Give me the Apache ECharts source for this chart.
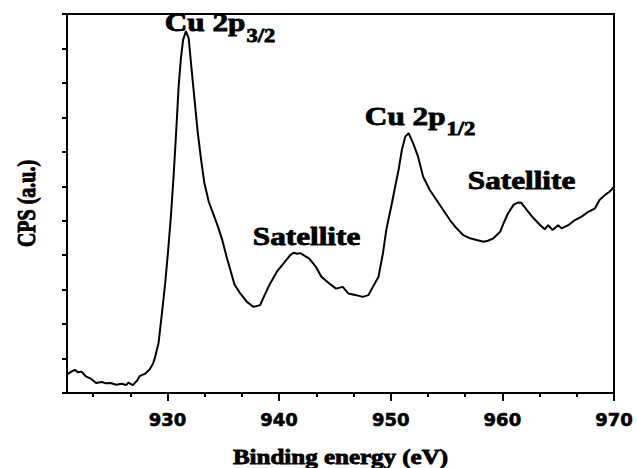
<!DOCTYPE html>
<html>
<head>
<meta charset="utf-8">
<script src="https://cdn.jsdelivr.net/npm/echarts@6/dist/echarts.min.js"></script>
<style>
  html, body { margin: 0; padding: 0; background: #fff; }
  #chart { width: 637px; height: 468px; }
</style>
</head>
<body>
<div id="chart"></div>
<script>
// Cu 2p core-level XPS spectrum
const energy = [
  921.0, 921.4, 921.7, 922.0, 922.3, 922.7, 923.2, 923.6, 924.1, 924.5,
  924.9, 925.4, 925.9, 926.3, 926.5, 926.9, 927.3, 927.5, 928.0, 928.4,
  928.7, 928.9, 929.2, 929.5, 929.8, 930.05, 930.3, 930.55, 930.8, 931.0,
  931.2, 931.4, 931.65, 931.9, 932.1, 932.4, 932.7, 933.0, 933.3, 933.7,
  934.1, 934.5, 934.9, 935.3, 935.7, 936.0, 936.5, 937.1, 937.7, 938.3,
  938.7, 939.2, 939.8, 940.4, 941.0, 941.3, 941.6, 941.9, 942.3, 942.7,
  943.3, 943.8, 944.5, 945.1, 945.7, 946.2, 946.9, 947.5, 948.0, 948.4,
  948.9, 949.3, 949.6, 950.1, 950.4, 950.7, 951.0, 951.3, 951.6, 952.0,
  952.45, 952.9, 953.5, 954.1, 954.7, 955.3, 955.9, 956.5, 957.1, 957.7,
  958.3, 958.7, 959.2, 959.8, 960.1, 960.5, 961.0, 961.4, 961.7, 962.2,
  962.8, 963.4, 963.8, 964.1, 964.5, 965.0, 965.3, 965.9, 966.5, 967.1,
  967.7, 968.3, 968.7, 969.2, 969.6, 970.0
];
const cps = [
  0.54, 0.62, 0.67, 0.60, 0.62, 0.48, 0.40, 0.29, 0.32, 0.28,
  0.29, 0.24, 0.27, 0.23, 0.30, 0.23, 0.37, 0.49, 0.56, 0.68,
  0.85, 1.05, 1.45, 2.30, 3.20, 4.10, 5.10, 6.30, 7.70, 8.90,
  9.70, 10.25, 10.50, 10.30, 9.60, 8.60, 7.60, 6.80, 6.10, 5.55,
  5.20, 4.85, 4.45, 3.95, 3.50, 3.15, 2.90, 2.65, 2.50, 2.55,
  2.84, 3.18, 3.52, 3.76, 4.00, 4.07, 4.04, 4.06, 3.98, 3.90,
  3.66, 3.37, 3.18, 3.03, 3.08, 2.89, 2.84, 2.79, 2.84, 3.08,
  3.37, 4.05, 4.73, 5.50, 6.00, 6.47, 7.06, 7.44, 7.54, 7.25,
  6.86, 6.28, 5.89, 5.60, 5.31, 5.02, 4.78, 4.58, 4.49, 4.44,
  4.39, 4.42, 4.49, 4.68, 4.92, 5.21, 5.46, 5.53, 5.52, 5.31,
  5.07, 4.87, 4.75, 4.87, 4.73, 4.87, 4.78, 4.87, 5.02, 5.12,
  5.26, 5.36, 5.60, 5.75, 5.84, 5.99
];

// axis ticks (binding energy, eV)
const xMajorTicks = [930, 940, 950, 960, 970];
const xMinorTicks = [923.33, 926.67, 933.33, 936.67, 943.33, 946.67,
                     953.33, 956.67, 963.33, 966.67];

// peak annotations: name, subscript and where the baseline of the name starts (eV, counts)
const peakNames = ['Cu 2p', 'Satellite', 'Cu 2p', 'Satellite'];
const peakSubs = ['3/2', '', '1/2', ''];
const peakLabelX = [929.75, 937.64, 947.68, 956.9];
const peakLabelY = [10.49, 4.29, 7.78, 5.91];

const xTitle = 'Binding energy (eV)';
const yTitle = 'CPS (a.u.)';

const SERIF = '"Liberation Serif", "Times New Roman", serif';
const STRETCH = 1.25;

const chart = echarts.init(document.getElementById('chart'), null, { renderer: 'svg' });

const lineStyle = { color: '#000', width: 2 };

chart.setOption({
  animation: false,
  backgroundColor: '#fff',
  grid: {
    left: 67, right: 23, top: 14, bottom: 75,
    show: true, borderColor: '#000', borderWidth: 2, backgroundColor: 'transparent'
  },
  xAxis: [
    {
      type: 'value', min: 921, max: 970, position: 'bottom',
      axisLine: { show: true, onZero: false, lineStyle },
      axisTick: { show: true, inside: false, length: 8, lineStyle, customValues: xMajorTicks },
      axisLabel: {
        show: true, customValues: xMajorTicks, margin: 17,
        color: '#000', fontFamily: '"DejaVu Sans", sans-serif', fontWeight: 'bold', fontSize: 18,
        textBorderColor: '#000', textBorderWidth: 0.6
      },
      splitLine: { show: false }
    },
    {
      type: 'value', min: 921, max: 970, position: 'bottom', offset: 0,
      axisLine: { show: false },
      axisTick: { show: true, inside: false, length: 4, lineStyle, customValues: xMinorTicks },
      axisLabel: { show: false },
      splitLine: { show: false }
    }
  ],
  yAxis: {
    type: 'value', min: 0, max: 11, interval: 1,
    axisLine: { show: true, onZero: false, lineStyle },
    axisTick: { show: true, inside: false, length: 5, lineStyle },
    axisLabel: { show: false },
    splitLine: { show: false }
  },
  series: [{
    type: 'line',
    xAxisIndex: 0,
    data: energy.map((e, i) => [e, cps[i]]),
    showSymbol: false,
    symbol: 'none',
    lineStyle: { color: '#000', width: 2 },
    silent: true
  }]
});

// text drawn in a stretched, heavy serif face
const ctx = document.createElement('canvas').getContext('2d');
function textWidth(str, font) { ctx.font = font; return ctx.measureText(str).width; }
function serifStyle(text, size, align) {
  return {
    text, font: 'bold ' + size + 'px ' + SERIF, fill: '#000',
    stroke: '#000', lineWidth: 0.8,
    align, verticalAlign: 'middle'
  };
}

const graphics = [];
const mainSize = 25, subSize = 18;
peakNames.forEach((name, i) => {
  const p = chart.convertToPixel({ gridIndex: 0 }, [peakLabelX[i], peakLabelY[i]]);
  const mainFont = 'bold ' + mainSize + 'px ' + SERIF;
  graphics.push({
    type: 'text', x: p[0], y: p[1] - 0.34 * mainSize, scaleX: STRETCH, silent: true,
    style: serifStyle(name, mainSize, 'left')
  });
  if (peakSubs[i]) {
    const subX = p[0] + STRETCH * textWidth(name, mainFont) + 1;
    graphics.push({
      type: 'text', x: subX, y: p[1] + 10 - 0.34 * subSize, scaleX: STRETCH, silent: true,
      style: serifStyle(peakSubs[i], subSize, 'left')
    });
  }
});

// axis titles
const left = chart.convertToPixel({ gridIndex: 0 }, [921, 0]);
const right = chart.convertToPixel({ gridIndex: 0 }, [970, 11]);
const titleSize = 20;
graphics.push({
  type: 'text', x: (left[0] + right[0]) / 2, y: left[1] + 71 - 0.34 * titleSize, scaleX: STRETCH, silent: true,
  style: serifStyle(xTitle, titleSize, 'center')
});
graphics.push({
  type: 'text', x: left[0] - 40, y: (left[1] + right[1]) / 2, rotation: Math.PI / 2, scaleY: STRETCH, silent: true,
  style: serifStyle(yTitle, titleSize, 'center')
});

chart.setOption({ graphic: { elements: graphics } });
</script>
</body>
</html>
